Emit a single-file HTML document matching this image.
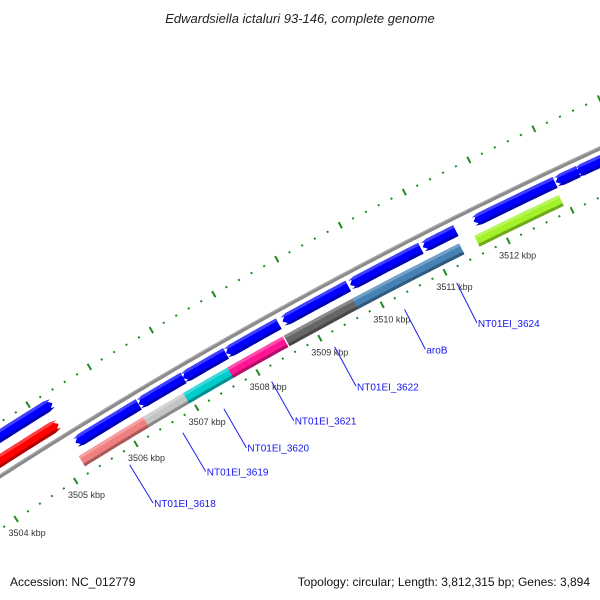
<!DOCTYPE html>
<html><head><meta charset="utf-8"><style>
body{margin:0;background:#fff}
svg{display:block}
text{font-family:"Liberation Sans",sans-serif}
</style></head><body>
<svg id="map" width="600" height="600" viewBox="0 0 600 600" xmlns="http://www.w3.org/2000/svg">
<rect width="600" height="600" fill="#fff"/>
<text x="300" y="23" text-anchor="middle" font-size="13" font-style="italic" fill="#222">Edwardsiella ictaluri 93-146, complete genome</text>
<g id="ticks"></g>
<g id="backbone"></g>
<g id="genes"></g>
<g id="labels"></g>
<text x="10" y="586" font-size="12" fill="#111">Accession: NC_012779</text>
<text x="590" y="586" text-anchor="end" font-size="12" fill="#111">Topology: circular; Length: 3,812,315 bp; Genes: 3,894</text>
</svg>
<script>
// gene data (kbp)
const geneStarts = [3503.0, 3503.0, 3505.28, 3506.32, 3507.04, 3507.74, 3508.65, 3509.73, 3510.88, 3511.68, 3512.96, 3513.28, 3505.22, 3506.28, 3506.94, 3507.66, 3508.57, 3509.67, 3510.80, 3511.60];
const geneEnds   = [3505.30, 3505.22, 3506.32, 3507.05, 3507.74, 3508.59, 3509.70, 3510.85, 3511.40, 3512.95, 3513.31, 3514.3, 3506.32, 3507.02, 3507.71, 3508.55, 3509.68, 3510.83, 3511.36, 3512.92];
const geneStrand = [1, 1, -1, -1, -1, -1, -1, -1, -1, -1, -1, -1, 0, 0, 0, 0, 0, 0, 0, 0];
const geneRing   = [3, 2, 1, 1, 1, 1, 1, 1, 1, 1, 1, 1, 0, 0, 0, 0, 0, 0, 0, 0];
const geneColors = ["#0000ff","#ff0000","#0000ff","#0000ff","#0000ff","#0000ff","#0000ff","#0000ff","#0000ff","#0000ff","#0000ff","#0000ff","#f08080","#c4c4c4","#00cccc","#ff1493","#666666","#4682b4","#4682b4","#a2f22a"];
const labelNames = ["NT01EI_3618","NT01EI_3619","NT01EI_3620","NT01EI_3621","NT01EI_3622","aroB","NT01EI_3624"];
const labelGene  = [12, 13, 14, 15, 16, 17, 18];
const tickLabels = [3504, 3505, 3506, 3507, 3508, 3509, 3510, 3511, 3512];

const CX = 2578, CY = 4479, K0 = 3504, A0 = 57.1, DEG_PER_KBP = 0.859;
const ringR = [4730, 4749, 4774, 4795];
const GH = 12;
const NS = "http://www.w3.org/2000/svg";
function P(k, r) {
  const a = (A0 + DEG_PER_KBP * (k - K0)) * Math.PI / 180;
  return [CX - r * Math.cos(a), CY - r * Math.sin(a)];
}
function mk(tag, attrs) {
  const e = document.createElementNS(NS, tag);
  for (const key in attrs) e.setAttribute(key, attrs[key]);
  return e;
}
function arcPts(k1, k2, r) {
  const pts = [];
  const n = Math.max(2, Math.ceil((k2 - k1) * 10));
  for (let i = 0; i <= n; i++) pts.push(P(k1 + (k2 - k1) * i / n, r));
  return pts;
}
function shade(hex, f) {
  const n = parseInt(hex.slice(1), 16);
  let r = n >> 16, g = (n >> 8) & 255, b = n & 255;
  if (f < 0) { r *= 1 + f; g *= 1 + f; b *= 1 + f; }
  else { r += (255 - r) * f; g += (255 - g) * f; b += (255 - b) * f; }
  return "rgb(" + Math.round(r) + "," + Math.round(g) + "," + Math.round(b) + ")";
}
function geneShape(k1, k2, r, h, strand) {
  const head = 0.09;
  let b1 = k1, b2 = k2;
  if (strand < 0) b1 = Math.min(k2, k1 + head);
  if (strand > 0) b2 = Math.max(k1, k2 - head);
  let pts = arcPts(b1, b2, r + h / 2);
  if (strand > 0) pts.push(P(k2, r));
  pts = pts.concat(arcPts(b1, b2, r - h / 2).reverse());
  if (strand < 0) pts.push(P(k1, r));
  return pts.map(p => p[0].toFixed(1) + "," + p[1].toFixed(1)).join(" ");
}

// ticks
const tg = document.getElementById("ticks");
for (let i = -10; i <= 60; i++) {
  const k = K0 + i * 0.2;
  const major = i % 5 === 0;
  // inner ring
  let a = P(k, major ? 4713 : 4715.5), b = P(k, major ? 4720 : 4717.5);
  let ln = mk("line", {x1: a[0], y1: a[1], x2: b[0], y2: b[1], stroke: "#1f8a1f", "stroke-width": 2});
  
  
  tg.appendChild(ln);
  // outer ring
  a = P(k, major ? 4803 : 4805.5); b = P(k, major ? 4810 : 4807.5);
  ln = mk("line", {x1: a[0], y1: a[1], x2: b[0], y2: b[1], stroke: "#1f8a1f", "stroke-width": 2});
  
  
  tg.appendChild(ln);
}
tickLabels.forEach(k => {
  const p = P(k, 4700);
  const t = mk("text", {x: p[0] + 2, y: p[1] + 3, "font-size": 9, "text-anchor": "middle", fill: "#333"});
  t.textContent = k + " kbp";
  
  
  tg.appendChild(t);
});

// backbone
const bb = document.getElementById("backbone");
const bpts = arcPts(3502, 3516, 4761).map(p => p[0].toFixed(1) + "," + p[1].toFixed(1)).join(" ");
let bl = mk("polyline", {points: bpts, fill: "none", stroke: "#8a8a8a", "stroke-width": 4});


bb.appendChild(bl);
const bpts2 = arcPts(3502, 3516, 4762.3).map(p => p[0].toFixed(1) + "," + p[1].toFixed(1)).join(" ");
bl = mk("polyline", {points: bpts2, fill: "none", stroke: "#b0b0b0", "stroke-width": 1});


bb.appendChild(bl);

// genes
const gg = document.getElementById("genes");
geneStarts.forEach((s, i) => {
  const e = geneEnds[i], r = ringR[geneRing[i]], c = geneColors[i], st = geneStrand[i];
  const g = mk("g", {});
  
  
  const main = mk("polygon", {points: geneShape(s, e, r, GH, st), fill: c});
  
  
  g.appendChild(main);
  const top = mk("polygon", {points: geneShape(s, e, r + GH / 2 - 1.5, 3, st), fill: shade(c, 0.25)});
  
  
  g.appendChild(top);
  const bot = mk("polygon", {points: geneShape(s, e, r - GH / 2 + 1.5, 3, st), fill: shade(c, -0.3)});
  
  
  g.appendChild(bot);
  gg.appendChild(g);
});

// gene labels
const lg = document.getElementById("labels");
labelNames.forEach((name, j) => {
  const gi = labelGene[j];
  const km = (geneStarts[gi] + geneEnds[gi]) / 2;
  const a = P(km, 4702), b = P(km, 4657);
  const ln = mk("line", {x1: a[0], y1: a[1], x2: b[0], y2: b[1], stroke: "#2020e8", "stroke-width": 1});
  
  
  lg.appendChild(ln);
  const t = mk("text", {x: b[0] + 1, y: b[1] + 4, "font-size": 10, fill: "#1414f0"});
  t.textContent = name;
  
  
  lg.appendChild(t);
});
</script>
</body></html>
